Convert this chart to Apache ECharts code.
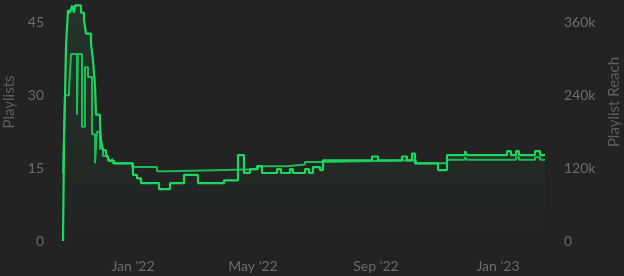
<!DOCTYPE html>
<html>
<head>
<meta charset="utf-8">
<script src="https://cdn.jsdelivr.net/npm/echarts@6/dist/echarts.min.js"></script>
<style>
  html, body { margin: 0; padding: 0; background: #232323; }
  #chart { width: 624px; height: 276px; }
</style>
</head>
<body>
<div id="chart"></div>
<script>
// Playlists (left axis) - change points, value holds until next date
const playlistDates = [
  '2021-10-23','2021-10-24','2021-10-25','2021-10-26','2021-10-27','2021-10-28','2021-10-30',
  '2021-11-01','2021-11-03','2021-11-04','2021-11-10','2021-11-13','2021-11-15','2021-11-20',
  '2021-11-22','2021-11-24','2021-11-25','2021-11-29','2021-11-30','2021-12-02','2021-12-05',
  '2021-12-07','2021-12-09','2021-12-13','2022-01-01','2022-01-05','2022-01-09','2022-01-27',
  '2022-02-07','2022-02-21','2022-03-07','2022-04-02','2022-04-16','2022-04-22','2022-04-28',
  '2022-05-05','2022-05-10','2022-05-25','2022-05-29','2022-06-07','2022-06-10','2022-06-22',
  '2022-06-26','2022-06-30','2022-07-07','2022-07-10','2022-08-28','2022-09-03','2022-09-27',
  '2022-10-02','2022-10-07','2022-10-10','2022-11-02','2022-11-11','2022-11-29','2022-12-01',
  '2023-01-10','2023-01-14','2023-01-19','2023-01-22','2023-02-07','2023-02-12','2023-02-17'
];
const playlistValues = [
  0, 20, 30, 40, 44, 47.5, 47,
  48.5, 47, 48.5, 47, 45.5, 42.7, 40.7,
  37.2, 32, 26, 24, 20.8, 18.7, 18,
  17, 16.5, 16, 13.6, 12.9, 11.9, 10.7,
  11.9, 13.6, 11.9, 12.5, 17.7, 14.0, 14.8,
  15.4, 14.0, 14.8, 14.0, 14.8, 14.0, 14.8,
  14.0, 15.2, 14.6, 16.6, 17.4, 16.6, 17.4,
  16.6, 18, 16.0, 14.6, 17.7, 18.5, 17.7,
  18.5, 17.7, 18.5, 17.7, 18.5, 17.7, 17.7
];

// Playlist Reach (right axis)
const reachDates = [
  '2021-10-23','2021-10-25','2021-10-29','2021-10-31','2021-11-06','2021-11-07','2021-11-11',
  '2021-11-14','2021-11-17','2021-11-21','2021-11-24','2021-11-26','2021-11-29','2021-12-02',
  '2021-12-07','2021-12-11','2021-12-12','2021-12-31','2022-01-25','2022-02-07','2022-05-06',
  '2022-06-04','2022-06-22','2022-07-10','2022-10-11','2022-11-11','2022-11-29','2022-12-01',
  '2023-01-19','2023-01-22','2023-02-07','2023-02-12','2023-02-17'
];
const reachValues = [
  112000, 240000, 248000, 308000, 208000, 308000, 188000,
  286000, 270000, 176000, 128000, 180000, 152000, 140000,
  132000, 136000, 128000, 122000, 115000, 118000, 123000,
  126000, 130000, 133000, 128000, 134000, 138000, 134000,
  138000, 134000, 138000, 134000, 134000
];

const leftTicks = [0, 15, 30, 45];
const rightTicks = [0, 120000, 240000, 360000];
const monthNames = ['Jan','Feb','Mar','Apr','May','Jun','Jul','Aug','Sep','Oct','Nov','Dec'];
const labelMonths = [0, 4, 8];

const chart = echarts.init(document.getElementById('chart'), null, { renderer: 'canvas' });
const textColor = '#6b6b6b';
const nameColor = '#5f5f5f';
const font = 'Lato, "Open Sans", sans-serif';

chart.setOption({
  backgroundColor: '#232323',
  animation: false,
  grid: { left: 54, right: 68, top: 3, bottom: 35, containLabel: false, outerBoundsMode: 'none' },
  xAxis: {
    type: 'time',
    min: '2021-10-14',
    max: '2023-02-28',
    splitNumber: 17,
    minInterval: 28 * 86400000,
    maxInterval: 31 * 86400000,
    axisLine: { show: false },
    axisTick: { show: false },
    splitLine: { show: false },
    axisLabel: {
      color: textColor,
      fontSize: 14,
      fontFamily: font,
      margin: 18,
      hideOverlap: false,
      formatter: function (value) {
        const d = new Date(value);
        if (d.getDate() === 1 && labelMonths.indexOf(d.getMonth()) >= 0) {
          return monthNames[d.getMonth()] + " '" + String(d.getFullYear()).slice(2);
        }
        return '';
      }
    }
  },
  yAxis: [
    {
      type: 'value',
      min: leftTicks[0],
      max: 49,
      interval: leftTicks[1] - leftTicks[0],
      name: 'Playlists',
      nameLocation: 'middle',
      nameGap: 35,
      nameTextStyle: { color: nameColor, fontSize: 15, fontFamily: font, padding: [0, 0, 0, 40] },
      axisLine: { show: false },
      axisTick: { show: false },
      splitLine: { show: false },
      axisLabel: { color: textColor, fontSize: 14, fontFamily: font, margin: 10, showMaxLabel: false }
    },
    {
      type: 'value',
      min: rightTicks[0],
      max: 392000,
      interval: rightTicks[1] - rightTicks[0],
      name: 'Playlist Reach',
      nameLocation: 'middle',
      nameGap: 50,
      nameTextStyle: { color: nameColor, fontSize: 15, fontFamily: font, padding: [0, 0, 0, 40] },
      axisLine: { show: false },
      axisTick: { show: false },
      splitLine: { show: false },
      axisLabel: {
        color: textColor, fontSize: 14, fontFamily: font, margin: 8, showMaxLabel: false,
        formatter: function (v) { return v === 0 ? '0' : (v / 1000) + 'k'; }
      }
    }
  ],
  series: [
    {
      name: 'Playlists',
      type: 'line',
      yAxisIndex: 0,
      step: 'end',
      symbol: 'none',
      z: 3,
      lineStyle: { color: '#1ed760', width: 2.2 },
      areaStyle: {
        color: new echarts.graphic.LinearGradient(0, 0, 0, 1, [
          { offset: 0, color: 'rgba(30,215,96,0.14)' },
          { offset: 1, color: 'rgba(30,215,96,0.0)' }
        ])
      },
      data: playlistDates.map((d, i) => [d, playlistValues[i]])
    },
    {
      name: 'Playlist Reach',
      type: 'line',
      yAxisIndex: 1,
      step: 'end',
      symbol: 'none',
      z: 2,
      lineStyle: { color: '#1db954', width: 2 },
      data: reachDates.map((d, i) => [d, reachValues[i]])
    }
  ]
});
</script>
</body>
</html>
